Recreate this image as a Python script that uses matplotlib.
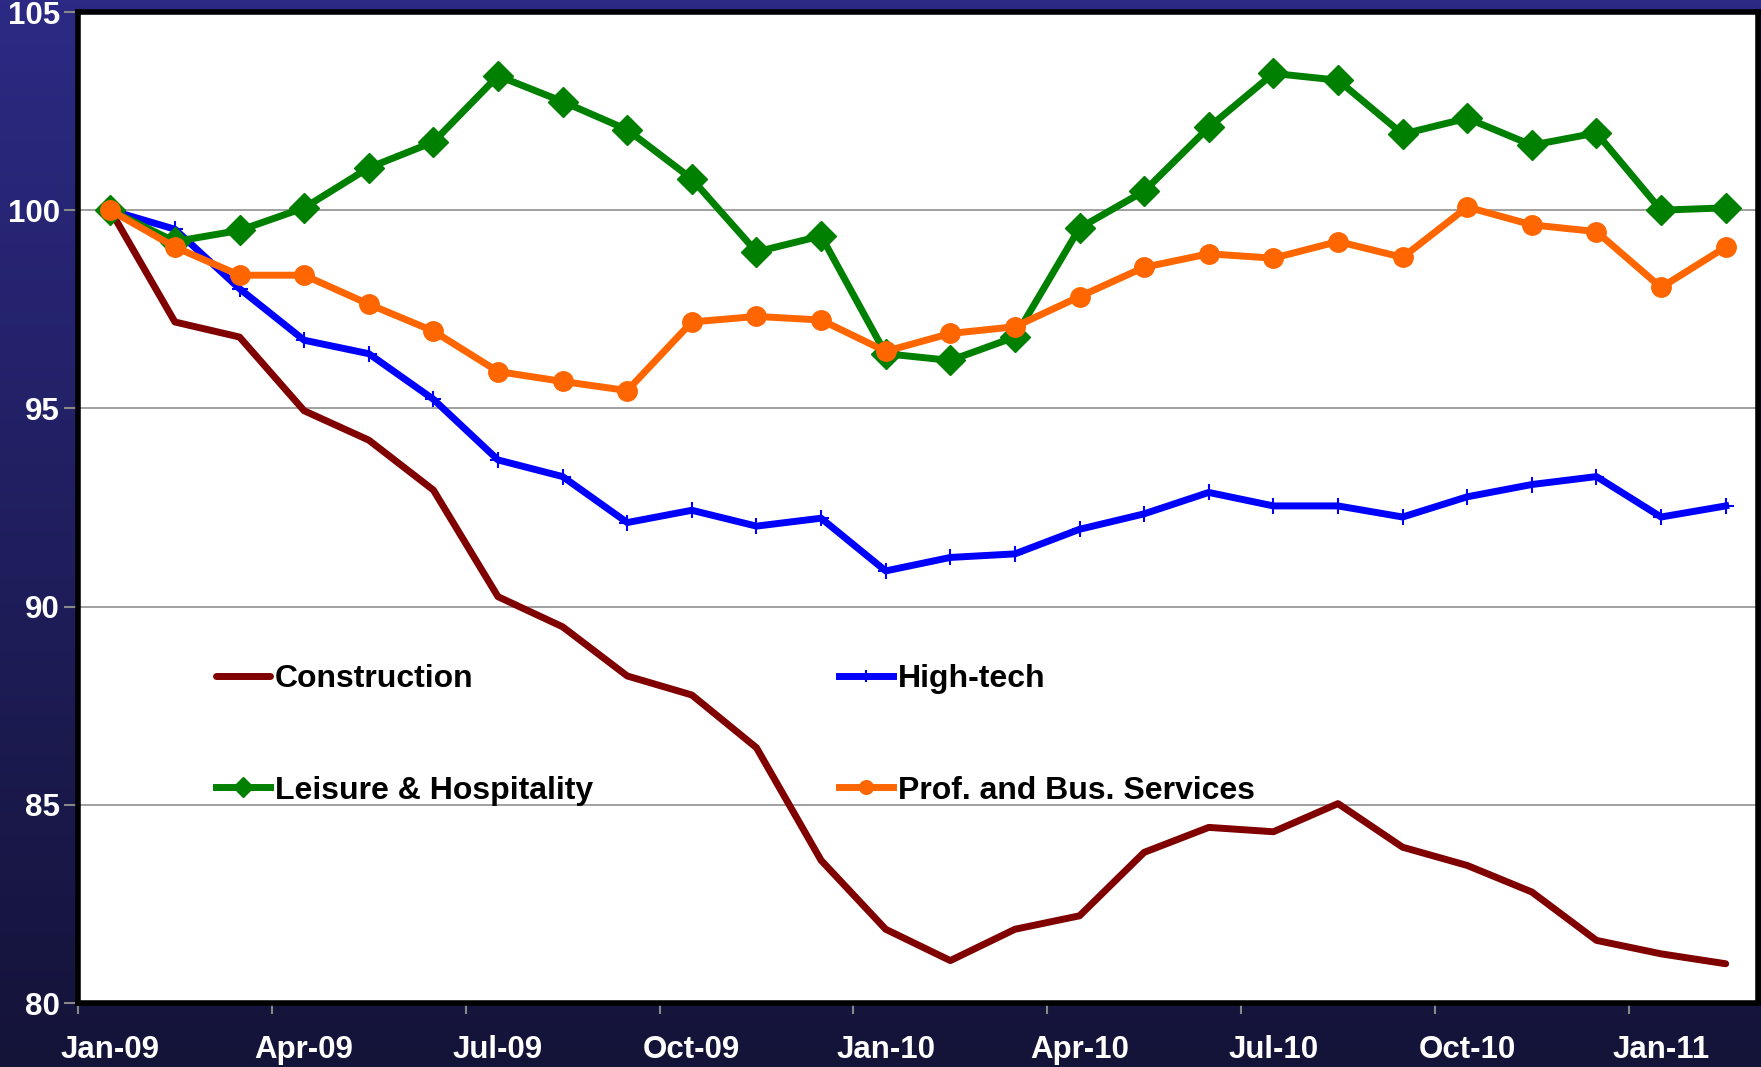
import numpy as np
import matplotlib
matplotlib.use('Agg')
import matplotlib.pyplot as plt

# Data (index = 100 at Jan-09), monthly Jan-09 .. Feb-11
months = ['Jan-09', 'Feb-09', 'Mar-09', 'Apr-09', 'May-09', 'Jun-09', 'Jul-09',
          'Aug-09', 'Sep-09', 'Oct-09', 'Nov-09', 'Dec-09', 'Jan-10', 'Feb-10',
          'Mar-10', 'Apr-10', 'May-10', 'Jun-10', 'Jul-10', 'Aug-10', 'Sep-10',
          'Oct-10', 'Nov-10', 'Dec-10', 'Jan-11', 'Feb-11']

construction = [100.0, 97.18, 96.8, 94.94, 94.2, 92.94, 90.25, 89.49, 88.25,
                87.77, 86.44, 83.6, 81.86, 81.07, 81.86, 82.2, 83.8, 84.43,
                84.32, 85.03, 83.93, 83.47, 82.8, 81.58, 81.24, 80.99]
high_tech = [100.0, 99.52, 98.02, 96.72, 96.38, 95.23, 93.7, 93.28, 92.12,
             92.43, 92.03, 92.23, 90.9, 91.24, 91.33, 91.95, 92.34, 92.88,
             92.54, 92.54, 92.26, 92.77, 93.08, 93.28, 92.26, 92.54]
leisure = [100.0, 99.21, 99.49, 100.06, 101.07, 101.72, 103.39, 102.74, 102.03,
           100.79, 98.95, 99.35, 96.38, 96.21, 96.8, 99.55, 100.48, 102.09,
           103.45, 103.28, 101.92, 102.32, 101.64, 101.95, 100.0, 100.06]
prof_bus = [100.0, 99.07, 98.36, 98.36, 97.63, 96.95, 95.93, 95.68, 95.45,
            97.18, 97.32, 97.23, 96.44, 96.89, 97.06, 97.82, 98.56, 98.9,
            98.79, 99.21, 98.81, 100.08, 99.63, 99.46, 98.05, 99.07]

plt.rcParams['font.family'] = ['Liberation Sans', 'DejaVu Sans']
plt.rcParams['font.weight'] = 'bold'

fig = plt.figure(figsize=(17.61, 10.67), dpi=100)

# navy gradient background
bg = fig.add_axes([0, 0, 1, 1], zorder=-10)
top_c = np.array([44, 42, 132]) / 255.0
bot_c = np.array([20, 19, 56]) / 255.0
t = np.linspace(0, 1, 256)[:, None]
grad = (top_c * (1 - t) + bot_c * t)[:, None, :]
bg.imshow(grad, aspect='auto', extent=[0, 1, 0, 1])
bg.axis('off')

ax = fig.add_axes([78 / 1761, 64 / 1067, 1680 / 1761, 991 / 1067])
ax.set_facecolor('white')

x = np.arange(len(months))
l_con, = ax.plot(x, construction, color='#800000', lw=5, label='Construction',
                 solid_capstyle='round', zorder=3)
l_ht, = ax.plot(x, high_tech, color='#0000FF', lw=5, marker='+', ms=12, mew=1.5,
                label='High-tech', zorder=4)
l_lh, = ax.plot(x, leisure, color='#008000', lw=5, marker='D', ms=15,
                label='Leisure & Hospitality', zorder=5)
l_pb, = ax.plot(x, prof_bus, color='#FF6600', lw=5, marker='o', ms=14,
                label='Prof. and Bus. Services', zorder=6)

ax.set_xlim(-0.5, 25.5)
ax.set_ylim(80, 105)

ax.set_yticks([80, 85, 90, 95, 100, 105])
ax.grid(axis='y', color='#999999', lw=1.3, zorder=1)
ax.tick_params(axis='y', colors='#888888', length=10, width=1.5, pad=3,
               labelcolor='white', labelsize=22.5)

# tick marks between categories, labels on categories
ax.set_xticks(np.arange(-0.5, 25.5, 3))
ax.set_xticklabels([])
ax.set_xticks(np.arange(0, 26, 3), minor=True)
ax.set_xticklabels([months[i] for i in range(0, 26, 3)], minor=True)
ax.tick_params(axis='x', which='major', colors='#888888', length=8, width=1.5)
ax.tick_params(axis='x', which='minor', length=0, pad=23, labelcolor='white',
               labelsize=22.5)

for s in ax.spines.values():
    s.set_color('black')
    s.set_linewidth(4)
    s.set_zorder(7)

leg = ax.legend([l_con, l_lh, l_ht, l_pb],
                ['Construction', 'Leisure & Hospitality', 'High-tech',
                 'Prof. and Bus. Services'],
                ncol=2, loc='upper left', bbox_to_anchor=(0.082, 0.342),
                frameon=False, fontsize=23, handlelength=1.7, handletextpad=0.15,
                labelspacing=2.55, columnspacing=7.7, markerscale=0.7,
                borderaxespad=0, borderpad=0)
for txt in leg.get_texts():
    txt.set_fontweight('bold')

fig.savefig('out.png', dpi=100)
